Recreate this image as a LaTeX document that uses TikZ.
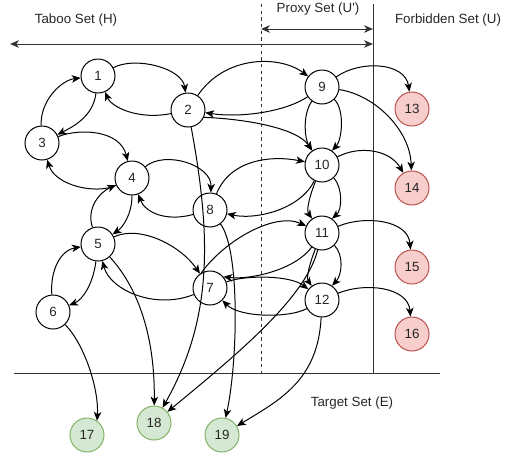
\documentclass[tikz,border=0pt]{standalone}
\usepackage{fontspec}
\setmainfont{Liberation Sans}
\usetikzlibrary{arrows.meta}
\definecolor{redfill}{HTML}{F8CECC}
\definecolor{reddraw}{HTML}{B85450}
\definecolor{greenfill}{HTML}{D5E8D4}
\definecolor{greendraw}{HTML}{82B366}
\begin{document}
\begin{tikzpicture}[x=0.75pt,y=-0.75pt,
  vtx/.style={circle,draw=black,fill=white,line width=0.75pt,minimum size=25.5pt,inner sep=0pt,
    font=\fontsize{10}{12}\selectfont,text=black!85},
  forbnode/.style={vtx,draw=reddraw,fill=redfill},
  targnode/.style={vtx,draw=greendraw,fill=greenfill},
  tip/.tip={Stealth[length=6.6pt,width=5.6pt,inset=1.8pt]},
  arr/.style={line width=0.75pt,-tip},
  frameline/.style={line width=0.75pt,draw=black!80},
  lbl/.style={font=\fontsize{10}{12}\selectfont,text=black!85,inner sep=0pt}]
\useasboundingbox (0,0) rectangle (510,454);

% frame
\coordinate (mainL) at (10,44);
\coordinate (mainR) at (373,44);
\coordinate (proxyL) at (261,29);
\coordinate (proxyR) at (373,29);
\coordinate (dashT) at (261,4);
\coordinate (dashB) at (261,373);
\coordinate (solT) at (373,4);
\coordinate (solB) at (373,373);
\coordinate (horL) at (14,373);
\coordinate (horR) at (440,373);
\draw[frameline,tip-tip] (mainL) -- (mainR);
\draw[frameline,tip-tip] (proxyL) -- (proxyR);
\draw[frameline,dash pattern=on 2.5pt off 2.5pt] (dashT) -- (dashB);
\draw[frameline] (solT) -- (solB);
\draw[frameline] (horL) -- (horR);

\node[lbl] (taboo) at (76,20) {Taboo Set (H)};
\node[lbl] (proxy) at (318,9) {Proxy Set (U\textquotesingle)};
\node[lbl] (forb) at (448,20) {Forbidden Set (U)};
\node[lbl] (target) at (352,403) {Target Set (E)};

% nodes
\node[vtx] (n1) at (98,76) {1};
\node[vtx] (n2) at (188,110) {2};
\node[vtx] (n3) at (42,143) {3};
\node[vtx] (n4) at (132,178) {4};
\node[vtx] (n5) at (98,244) {5};
\node[vtx] (n6) at (53,312) {6};
\node[vtx] (n7) at (210,288) {7};
\node[vtx] (n8) at (210,210) {8};
\node[vtx] (n9) at (322,87) {9};
\node[vtx] (n10) at (322,165) {10};
\node[vtx] (n11) at (322,233) {11};
\node[vtx] (n12) at (322,300) {12};
\node[forbnode] (n13) at (412,109) {13};
\node[forbnode] (n14) at (412,188) {14};
\node[forbnode] (n15) at (412,267) {15};
\node[forbnode] (n16) at (412,334) {16};
\node[targnode] (n17) at (87,435) {17};
\node[targnode] (n18) at (154,423) {18};
\node[targnode] (n19) at (222,435) {19};

% edges
\draw[arr] (n1) .. controls (135,56) and (182,68) .. (n2);
\draw[arr] (n2) .. controls (140,120) and (112,108) .. (n1);
\draw[arr] (n1) .. controls (93,118) and (70,128) .. (n3);
\draw[arr] (n3) .. controls (40,100) and (62,80) .. (n1);
\draw[arr] (n3) .. controls (80,128) and (120,130) .. (n4);
\draw[arr] (n4) .. controls (95,195) and (55,185) .. (n3);
\draw[arr] (n4) .. controls (165,150) and (212,165) .. (n8);
\draw[arr] (n8) .. controls (165,222) and (145,212) .. (n4);
\draw[arr] (n5) .. controls (86,208) and (100,192) .. (n4);
\draw[arr] (n4) .. controls (132,215) and (122,228) .. (n5);
\draw[arr] (n5) .. controls (140,225) and (180,245) .. (n7);
\draw[arr] (n7) .. controls (155,310) and (110,290) .. (n5);
\draw[arr] (n6) .. controls (50,268) and (62,250) .. (n5);
\draw[arr] (n5) .. controls (93,285) and (82,300) .. (n6);
\draw[arr] (n6) .. controls (85,345) and (99,390) .. (n17.55);
\draw[arr] (n5) .. controls (140,290) and (155,340) .. (n18);
\draw[arr] (n2) .. controls (212,240) and (212,320) .. (n18);
\draw[arr] (n8) .. controls (240,250) and (238,360) .. (n19);
\draw[arr] (n12) .. controls (318,380) and (280,400) .. (n19);
\draw[arr] (n11) .. controls (305,300) and (230,360) .. (n18);
\draw[arr] (n2) .. controls (225,55) and (280,55) .. (n9);
\draw[arr] (n9) .. controls (285,112) and (240,118) .. (n2);
\draw[arr] (n2.-25) .. controls (230,118) and (295,125) .. (n10);
\draw[arr] (n9) .. controls (302,115) and (305,140) .. (n10);
\draw[arr] (n9) .. controls (345,110) and (342,140) .. (n10.55);
\draw[arr] (n10) .. controls (310,195) and (306,210) .. (n11);
\draw[arr] (n10) .. controls (343,188) and (342,210) .. (n11.55);
\draw[arr] (n11) .. controls (310,262) and (306,278) .. (n12);
\draw[arr] (n11) .. controls (344,255) and (342,275) .. (n12.55);
\draw[arr] (n9) .. controls (360,60) and (405,62) .. (n13);
\draw[arr] (n9) .. controls (375,95) and (410,130) .. (n14);
\draw[arr] (n10) .. controls (360,145) and (390,150) .. (n14);
\draw[arr] (n11) .. controls (365,215) and (408,220) .. (n15);
\draw[arr] (n12) .. controls (365,282) and (408,287) .. (n16);
\draw[arr] (n8) .. controls (230,160) and (270,155) .. (n10);
\draw[arr] (n10) .. controls (300,210) and (255,220) .. (n8);
\draw[arr] (n7.120) .. controls (225,240) and (275,212) .. (n11);
\draw[arr] (n11) .. controls (295,270) and (250,280) .. (n7.40);
\draw[arr] (n7) .. controls (245,275) and (290,275) .. (n12);
\draw[arr] (n12) .. controls (290,318) and (240,318) .. (n7);
\end{tikzpicture}
\end{document}
